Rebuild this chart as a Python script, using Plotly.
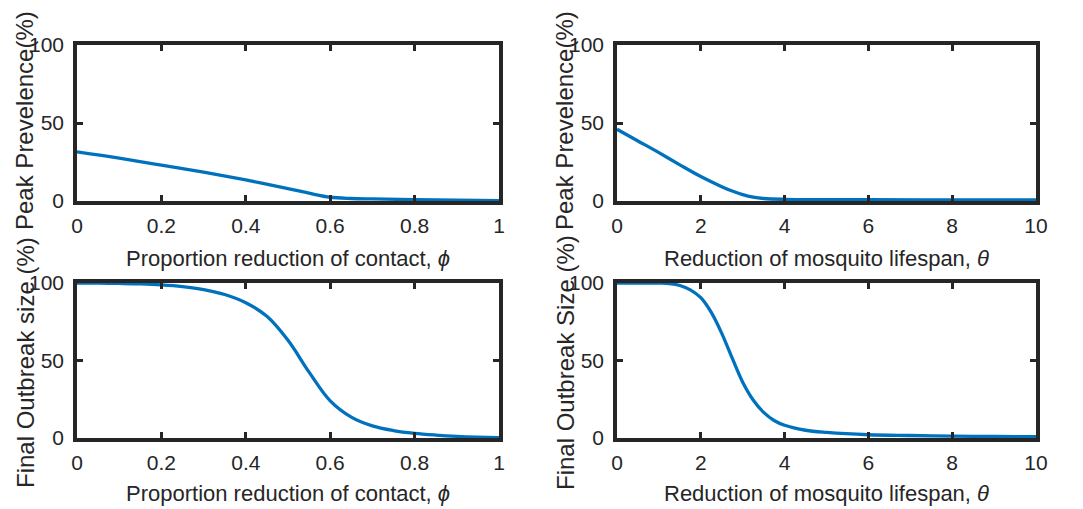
import plotly.graph_objects as go

# ---- data ----
phi_peak_x = [0, 0.1, 0.2, 0.3, 0.4, 0.5, 0.55, 0.6, 0.65, 0.7, 0.8, 0.9, 1.0]
phi_peak_y = [31.5, 27.5, 23, 18.5, 13.5, 8, 5, 2.4, 1.6, 1.3, 0.9, 0.5, 0.2]

theta_peak_x = [0, 0.5, 1, 1.5, 2, 2.5, 2.75, 3, 3.25, 3.5, 4, 5, 6, 8, 10]
theta_peak_y = [46, 38.5, 31, 23.2, 15.7, 9.2, 6.4, 4.1, 2.5, 1.6, 1.1, 0.9, 0.8, 0.7, 0.7]

phi_final_x = [0, 0.05, 0.1, 0.15, 0.2, 0.25, 0.3, 0.35, 0.4, 0.45, 0.5, 0.55,
               0.6, 0.65, 0.7, 0.75, 0.8, 0.85, 0.9, 0.95, 1.0]
phi_final_y = [100, 99.9, 99.7, 99.4, 98.8, 97.7, 95.8, 92.6, 87.3, 78.5, 63, 42.5,
               24, 13.5, 7.8, 4.8, 3.0, 1.9, 1.1, 0.6, 0.3]

theta_final_x = [0, 0.5, 1, 1.25, 1.5, 1.75, 2, 2.25, 2.5, 2.75, 3, 3.25, 3.5,
                 3.75, 4, 4.5, 5, 6, 7, 8, 9, 10]
theta_final_y = [100, 100, 99.9, 99.6, 98.4, 95.6, 90.5, 81, 67.5, 51.5, 36, 24.5, 16.5,
                 11.3, 8.2, 5, 3.6, 2.1, 1.6, 1.2, 1.0, 0.8]

phi_ticks = [0, 0.2, 0.4, 0.6, 0.8, 1]
phi_ticktext = ["0", "0.2", "0.4", "0.6", "0.8", "1"]
theta_ticks = [0, 2, 4, 6, 8, 10]
y_ticks = [0, 50, 100]

xlabel_phi = "Proportion reduction of contact, <i>ϕ</i>"
xlabel_theta = "Reduction of mosquito lifespan, <i>θ</i>"
ylabel_peak = "Peak Prevelence(%)"
ylabel_final_phi = "Final Outbreak size (%)"
ylabel_final_theta = "Final Outbreak Size (%)"

# ---- layout geometry ----
W, H = 1083, 509
LINE = "#0072BD"
DARK = "#262626"
FONT = "Liberation Sans, Arial, Helvetica, sans-serif"

xdom_l = [77 / W, 499 / W]
xdom_r = [617 / W, 1036 / W]
ydom_t = [1 - 201 / H, 1 - 45 / H]
ydom_b = [1 - 438 / H, 1 - 283 / H]

fig = go.Figure()
series = [
    (phi_peak_x, phi_peak_y, "x", "y"),
    (theta_peak_x, theta_peak_y, "x2", "y2"),
    (phi_final_x, phi_final_y, "x3", "y3"),
    (theta_final_x, theta_final_y, "x4", "y4"),
]
for xs, ys, xa, ya in series:
    fig.add_trace(go.Scatter(x=xs, y=ys, xaxis=xa, yaxis=ya, mode="lines",
                             line=dict(color=LINE, width=3.3, shape="spline", smoothing=1.0),
                             showlegend=False, hoverinfo="skip"))

common = dict(showline=True, linewidth=3.5, linecolor=DARK, mirror="ticks",
              ticks="inside", ticklen=6, tickwidth=3, tickcolor=DARK,
              showgrid=False, zeroline=False, automargin=False,
              tickfont=dict(family=FONT, size=21, color=DARK))

def xax(dom, anchor, tv, tt, rng):
    return dict(domain=dom, anchor=anchor, range=rng, tickmode="array",
                tickvals=tv, ticktext=tt, ticklabelstandoff=3, **common)

def yax(dom, anchor):
    return dict(domain=dom, anchor=anchor, range=[0, 100], tickmode="array",
                tickvals=y_ticks, ticktext=[str(v) for v in y_ticks],
                ticklabelstandoff=5, **common)

fig.update_layout(
    width=W, height=H, margin=dict(l=0, r=0, t=0, b=0),
    paper_bgcolor="white", plot_bgcolor="white",
    xaxis=xax(xdom_l, "y", phi_ticks, phi_ticktext, [0, 1]),
    yaxis=yax(ydom_t, "x"),
    xaxis2=xax(xdom_r, "y2", theta_ticks, [str(v) for v in theta_ticks], [0, 10]),
    yaxis2=yax(ydom_t, "x2"),
    xaxis3=xax(xdom_l, "y3", phi_ticks, phi_ticktext, [0, 1]),
    yaxis3=yax(ydom_b, "x3"),
    xaxis4=xax(xdom_r, "y4", theta_ticks, [str(v) for v in theta_ticks], [0, 10]),
    yaxis4=yax(ydom_b, "x4"),
)

xt_font = dict(family=FONT, size=22, color=DARK)
yt_font = dict(family=FONT, size=24, color=DARK)
annotations = []
for dom, text, yc in [(xdom_l, xlabel_phi, 258), (xdom_r, xlabel_theta, 258),
                      (xdom_l, xlabel_phi, 493), (xdom_r, xlabel_theta, 493)]:
    annotations.append(dict(x=(dom[0] + dom[1]) / 2, y=1 - yc / H, xref="paper", yref="paper",
                            text=text, showarrow=False, xanchor="center", yanchor="middle",
                            font=xt_font))
for xc, yc, text in [(25, 121, ylabel_peak), (565, 121, ylabel_peak),
                     (25, 363, ylabel_final_phi), (565, 363, ylabel_final_theta)]:
    annotations.append(dict(x=xc / W, y=1 - yc / H, xref="paper", yref="paper",
                            text=text, showarrow=False, textangle=-90,
                            xanchor="center", yanchor="middle", font=yt_font))
fig.update_layout(annotations=annotations)

fig.write_html("out.html")
